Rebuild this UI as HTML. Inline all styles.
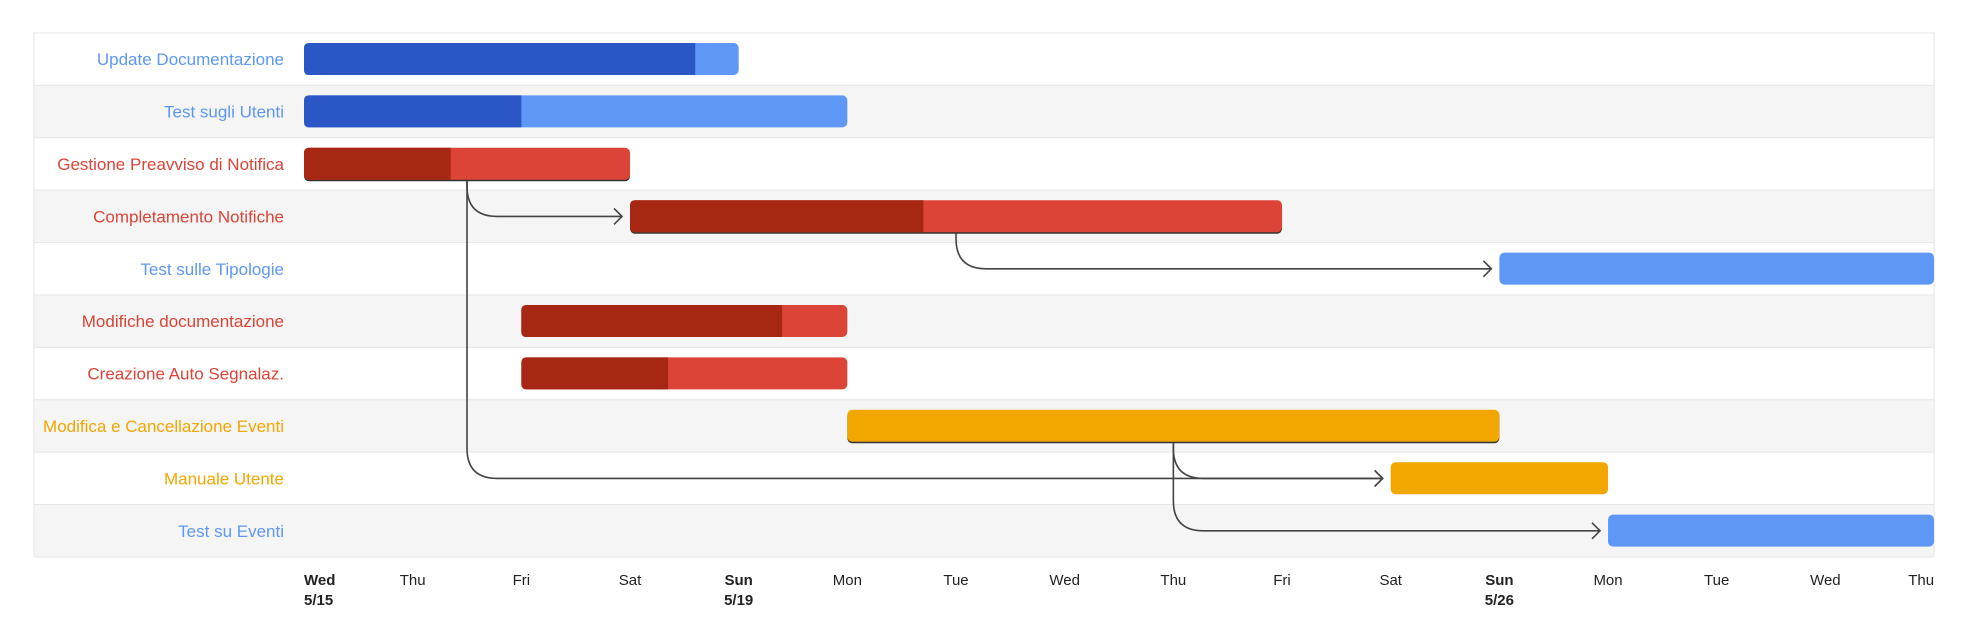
<!DOCTYPE html>
<html><head><meta charset="utf-8"><style>
body{margin:0;background:#fff;width:1972px;height:640px;overflow:hidden}
svg{display:block;font-family:"Liberation Sans",sans-serif}
</style></head><body>
<svg id="chart" width="1972" height="640" viewBox="0 0 1972 640"></svg>
<script>
const tasks=["Update Documentazione","Test sugli Utenti","Gestione Preavviso di Notifica","Completamento Notifiche","Test sulle Tipologie","Modifiche documentazione","Creazione Auto Segnalaz.","Modifica e Cancellazione Eventi","Manuale Utente","Test su Eventi"];
const starts=[0,0,0,3,11,2,2,5,10,12];
const ends=[4,5,3,9,15,5,5,11,12,15];
const progress=[0.9,0.4,0.45,0.45,0,0.8,0.45,0,0,0];
const groups=["blue","blue","red","red","blue","red","red","orange","orange","blue"];
const critical=[0,0,1,1,0,0,0,1,0,0];
const depFrom=[2,2,3,7,7];
const depTo=[3,8,4,8,9];
const depOffset=[1.5,1.5,3,3,3];
const tickLabels=["Wed","Thu","Fri","Sat","Sun","Mon","Tue","Wed","Thu","Fri","Sat","Sun","Mon","Tue","Wed","Thu"];
const tickSub=["5/15","","","","5/19","","","","","","","5/26","","","",""];

const NS="http://www.w3.org/2000/svg";
const svg=document.getElementById('chart');
const X0=304,DAY=108.67,TOP=33,RH=52.4,LEFT=34,RIGHT=1934;
const x=d=>X0+d*DAY;
const y=i=>TOP+i*RH;
const colors={blue:["#2a56c6","#5e97f6"],red:["#a52714","#db4437"],orange:["#f2a600","#f2a600"]};
function el(t,a,p){const e=document.createElementNS(NS,t);for(const k in a)e.setAttribute(k,a[k]);(p||svg).appendChild(e);return e;}

tasks.forEach((t,i)=>{
  const r=el('rect',{x:LEFT,y:y(i),width:RIGHT-LEFT,height:RH,fill:i%2?"#f5f5f5":"#fff",stroke:"#e6e6e6","stroke-width":1});
  
  
  const tx=el('text',{x:284,y:y(i)+RH/2+6,"text-anchor":"end","font-size":17,fill:colors[groups[i]][1]});
  tx.textContent=t;
  
  
});

// dependencies
for(let k=0;k<depFrom.length;k++){
  const s=depFrom[k],d=depTo[k];
  const sx=x(starts[s]+depOffset[k]);
  const sy=y(s)+10+32;
  const ty=y(d)+RH/2;
  const tx=x(starts[d])-8;
  const r=30;
  const p=el('path',{d:`M${sx},${sy} L${sx},${ty-r} Q${sx},${ty} ${sx+r},${ty} L${tx},${ty} M${tx-8},${ty-8} L${tx},${ty} L${tx-8},${ty+8}`,fill:"none",stroke:"#444","stroke-width":1.6});
  
  
}

tasks.forEach((t,i)=>{
  const bx=x(starts[i]),bw=x(ends[i])-bx,by=y(i)+10,bh=32;
  const c=colors[groups[i]];
  const g=el('g',{});
  
  
  if(critical[i]) el('rect',{x:bx,y:by+1.5,width:bw,height:bh,rx:5,fill:"#333"},g);
  el('rect',{x:bx,y:by,width:bw,height:bh,rx:5,fill:c[1]},g);
  if(progress[i]>0){
    const pw=bw*progress[i];
    el('path',{d:`M${bx+pw},${by} L${bx+5},${by} Q${bx},${by} ${bx},${by+5} L${bx},${by+bh-5} Q${bx},${by+bh} ${bx+5},${by+bh} L${bx+pw},${by+bh}Z`,fill:c[0]},g);
  }
});

tickLabels.forEach((l,i)=>{
  const bold=tickSub[i]!=="";
  const anchor=i===0?"start":(i===tickLabels.length-1?"end":"middle");
  const t=el('text',{x:x(i),y:585,"text-anchor":anchor,"font-size":15,fill:"#222","font-weight":bold?"bold":"normal"});
  t.textContent=l;
  
  
  if(bold){
    const t2=el('text',{x:x(i),y:605,"text-anchor":anchor,"font-size":15,fill:"#222","font-weight":"bold"});
    t2.textContent=tickSub[i];
    
    
  }
});
</script>
</body></html>
